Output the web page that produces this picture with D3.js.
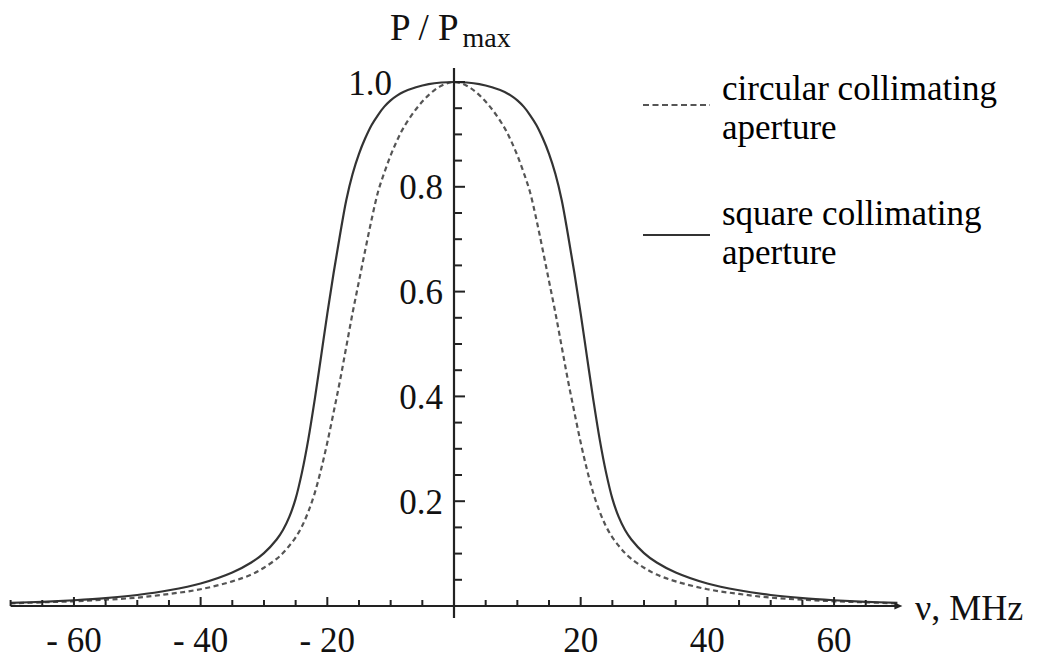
<!DOCTYPE html>
<html>
<head>
<meta charset="utf-8">
<script src="https://cdn.jsdelivr.net/npm/d3@7/dist/d3.min.js"></script>
<style>
  html, body { margin: 0; padding: 0; background: #fff; }
  svg { display: block; }
  text { font-family: "Liberation Serif", "Times New Roman", serif; fill: #111; }
</style>
</head>
<body>
<svg id="chart" width="1040" height="659"></svg>
<script>
// ---- Data (frequency offset in MHz, normalized power) ----
const nu = [-70,-65,-60,-55,-50,-45,-40,-35,-32,-30,
            -28,-27,-26,-25,-24,-23,-22,-21,-20,-19,-18,-17,-16,-15,-14,-13,-12,-11,-10,-9,-8,
            -6,-4,-2,0,2,4,6,
            8,9,10,11,12,13,14,15,16,17,18,19,20,21,22,23,24,25,26,27,28,
            30,32,35,40,45,50,55,60,65,70];
const squareAperture = [0.006,0.008,0.011,0.015,0.021,0.030,0.043,0.064,0.083,0.101,
            0.127,0.145,0.170,0.205,0.255,0.318,0.393,0.475,0.558,0.636,0.708,0.775,0.825,0.863,0.893,0.918,0.937,0.953,0.965,0.974,0.981,
            0.990,0.996,0.999,1.0,0.999,0.996,0.990,
            0.981,0.974,0.965,0.953,0.937,0.918,0.893,0.863,0.825,0.775,0.708,0.636,0.558,0.475,0.393,0.318,0.255,0.205,0.170,0.145,0.127,
            0.101,0.083,0.064,0.043,0.030,0.021,0.015,0.011,0.008,0.006];
const circularAperture = [0.005,0.007,0.009,0.012,0.016,0.023,0.032,0.047,0.060,0.073,
            0.090,0.101,0.115,0.131,0.152,0.180,0.215,0.260,0.312,0.370,0.430,0.495,0.560,0.620,0.680,0.738,0.790,0.827,0.860,0.888,0.912,
            0.948,0.975,0.993,1.0,0.993,0.975,0.948,
            0.912,0.888,0.860,0.827,0.790,0.738,0.680,0.620,0.560,0.495,0.430,0.370,0.312,0.260,0.215,0.180,0.152,0.131,0.115,0.101,0.090,
            0.073,0.060,0.047,0.032,0.023,0.016,0.012,0.009,0.007,0.005];
const xMajorTicks = [-60,-40,-20,20,40,60];
const xTickLabels = ["- 60","- 40","- 20","20","40","60"];
const xMinorTicks = [-70,-65,-55,-50,-45,-35,-30,-25,-15,-10,-5,5,10,15,25,30,35,45,50,55,65];
const yMajorTicks = [0.2,0.4,0.6,0.8,1.0];
const yTickLabels = ["0.2","0.4","0.6","0.8","1.0"];
const yMinorTicks = [0.05,0.1,0.15,0.25,0.3,0.35,0.45,0.5,0.55,0.65,0.7,0.75,0.85,0.9,0.95];
const legendLabels = [["circular collimating","aperture"],["square collimating","aperture"]];

// ---- Scales ----
const svg = d3.select("#chart");
const x = d3.scaleLinear().domain([-70, 70]).range([10.6, 897.4]);
const y = d3.scaleLinear().domain([0, 1]).range([606, 82]);
const x0 = x(0), y0 = y(0);
const axisColor = "#222";

// ---- Curves ----
const line = d3.line().x(d => x(d[0])).y(d => y(d[1])).curve(d3.curveCatmullRom.alpha(0.5));
svg.append("path")
  .attr("d", line(nu.map((v, i) => [v, circularAperture[i]])))
  .attr("fill", "none").attr("stroke", "#555").attr("stroke-width", 2.2)
  .attr("stroke-dasharray", "5,3.5");
svg.append("path")
  .attr("d", line(nu.map((v, i) => [v, squareAperture[i]])))
  .attr("fill", "none").attr("stroke", "#333").attr("stroke-width", 2.2);

// ---- X axis ----
svg.append("line").attr("x1", x(-70)).attr("x2", x(70) + 2).attr("y1", y0).attr("y2", y0)
  .attr("stroke", axisColor).attr("stroke-width", 2.2);
svg.append("path")
  .attr("d", `M${x(70) + 5},${y0} L${x(70) - 3},${y0 - 3.5} L${x(70) - 3},${y0 + 3.5} Z`)
  .attr("fill", axisColor);
svg.selectAll(".xminor").data(xMinorTicks).enter().append("line")
  .attr("x1", d => x(d)).attr("x2", d => x(d)).attr("y1", y0).attr("y2", y0 - 6)
  .attr("stroke", axisColor).attr("stroke-width", 2);
svg.selectAll(".xmajor").data(xMajorTicks).enter().append("line")
  .attr("x1", d => x(d)).attr("x2", d => x(d)).attr("y1", y0).attr("y2", y0 - 9)
  .attr("stroke", axisColor).attr("stroke-width", 2);
svg.selectAll(".xlab").data(xMajorTicks).enter().append("text")
  .attr("x", d => x(d)).attr("y", 652).attr("text-anchor", "middle")
  .attr("font-size", 35).text((d, i) => xTickLabels[i]);
svg.append("text").attr("x", 915).attr("y", 620).attr("font-size", 36).text("ν, MHz");

// ---- Y axis ----
svg.append("line").attr("x1", x0).attr("x2", x0).attr("y1", 618).attr("y2", 68)
  .attr("stroke", axisColor).attr("stroke-width", 2.2);
svg.selectAll(".yminor").data(yMinorTicks).enter().append("line")
  .attr("x1", x0).attr("x2", x0 + 8).attr("y1", d => y(d)).attr("y2", d => y(d))
  .attr("stroke", axisColor).attr("stroke-width", 2);
svg.selectAll(".ymajor").data(yMajorTicks).enter().append("line")
  .attr("x1", x0).attr("x2", x0 + 11).attr("y1", d => y(d)).attr("y2", d => y(d))
  .attr("stroke", axisColor).attr("stroke-width", 2);
svg.selectAll(".ylab").data(yMajorTicks).enter().append("text")
  .attr("x", d => d === 1.0 ? 392 : 443).attr("y", d => y(d)).attr("dy", "0.36em")
  .attr("text-anchor", "end").attr("font-size", 35).text((d, i) => yTickLabels[i]);
const yt = svg.append("text").attr("x", 390).attr("y", 40).attr("font-size", 37);
yt.append("tspan").text("P / P");
yt.append("tspan").attr("font-size", 28).attr("dx", 4).attr("dy", 7).text("max");

// ---- Legend ----
const legendY = [105, 235];
const textY = [[100, 139], [225, 264]];
legendLabels.forEach((lab, i) => {
  svg.append("line").attr("x1", 643).attr("x2", 710).attr("y1", legendY[i]).attr("y2", legendY[i])
    .attr("stroke", i === 0 ? "#555" : "#333").attr("stroke-width", 2.2)
    .attr("stroke-dasharray", i === 0 ? "6,3.5" : null);
  lab.forEach((t, j) => {
    svg.append("text").attr("x", 722).attr("y", textY[i][j]).attr("font-size", 35)
      .style("fill", "#000").text(t);
  });
});
</script>
</body>
</html>
